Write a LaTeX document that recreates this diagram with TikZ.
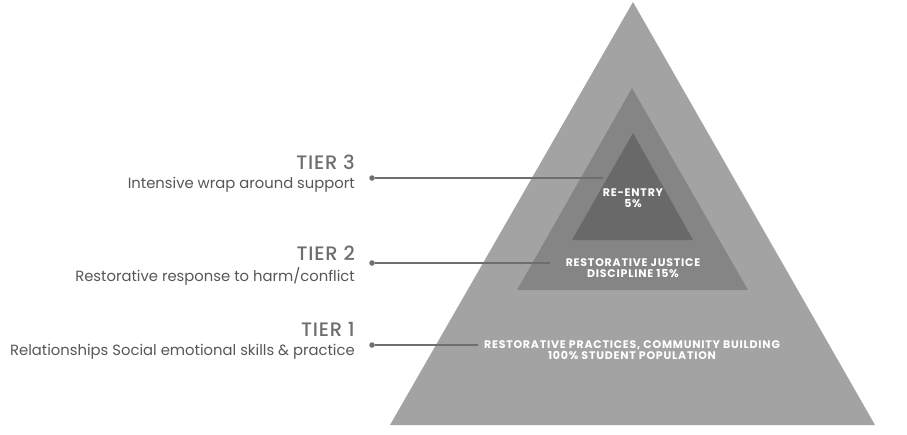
\documentclass[tikz,border=0pt]{standalone}
\usepackage{fontspec}
\setmainfont{Poppins}
\newfontfamily\popmed[LetterSpace=4]{Poppins Medium}
\newfontfamily\popbold[LetterSpace=7]{Poppins Bold}
\definecolor{outerg}{HTML}{A3A3A3}
\definecolor{midg}{HTML}{858585}
\definecolor{innerg}{HTML}{696969}
\definecolor{labelg}{HTML}{575757}
\definecolor{headg}{HTML}{6E6E6E}
\definecolor{lineg}{HTML}{6E6E6E}
\begin{document}
\begin{tikzpicture}[x=1pt,y=-1pt,
  tierhead/.style={anchor=east,inner sep=0pt,text=headg,font=\popmed\fontsize{19.5}{21}\selectfont},
  tierdesc/.style={anchor=east,inner sep=0pt,text=labelg,font=\fontsize{14.8}{16}\selectfont},
  inlabel/.style={align=center,inner sep=0pt,text=white,font=\popbold\fontsize{11}{10.8}\selectfont},
  dotnode/.style={circle,fill=lineg,inner sep=0pt,minimum size=5.5pt},
  conn/.style={draw=lineg,line width=1.1pt}]
\useasboundingbox (0,0) rectangle (907,434);
\fill[white] (0,0) rectangle (907,434);
% triangles
\fill[outerg] (633,2) -- (875,425) -- (390,425) -- cycle;
\fill[midg] (632,88) -- (748,290) -- (517,290) -- cycle;
\fill[innerg] (633,133) -- (693,240) -- (572,240) -- cycle;
% tier labels
\node[tierhead] (h3) at (355,162) {TIER 3};
\node[tierdesc] (t3) at (355,185) {Intensive wrap around support};
\node[tierhead] (h2) at (355,253) {TIER 2};
\node[tierdesc] (t2) at (355,276) {Restorative response to harm/conflict};
\node[tierhead] (h1) at (355,329) {TIER 1};
\node[tierdesc] (t1) at (355,352) {Relationships Social emotional skills \& practice};
% dots and connectors
\node[dotnode] (d3) at (372,178) {};
\node[dotnode] (d2) at (372,263) {};
\node[dotnode] (d1) at (372,345) {};
\coordinate (e3) at (603,178);
\coordinate (e2) at (550,263);
\coordinate (e1) at (478,345);
\draw[conn] (d3) -- (e3);
\draw[conn] (d2) -- (e2);
\draw[conn] (d1) -- (e1);
% inner labels
\node[inlabel] (l3) at (633,198) {RE-ENTRY\\5\%};
\node[inlabel] (l2) at (633,268.5) {RESTORATIVE JUSTICE\\DISCIPLINE 15\%};
\node[inlabel] (l1) at (632,350) {RESTORATIVE PRACTICES, COMMUNITY BUILDING\\100\% STUDENT POPULATION};
\end{tikzpicture}
\end{document}
